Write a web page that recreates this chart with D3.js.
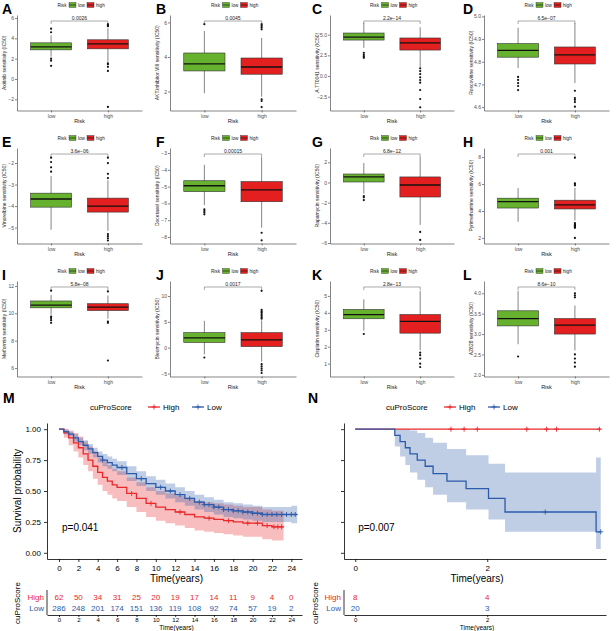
<!DOCTYPE html>
<html>
<head>
<meta charset="utf-8">
<script src="https://cdnjs.cloudflare.com/ajax/libs/d3/7.8.5/d3.min.js"></script>
<style>
  body { margin: 0; background: #fff; }
  svg { display: block; font-family: "Liberation Sans", Arial, sans-serif; }
</style>
</head>
<body>
<div id="chart"></div>
<script>
// ---- boxplot panels A-L ----
const boxLetters = ["A","B","C","D","E","F","G","H","I","J","K","L"];
const drugLabels = [
  "Axitinib sensitivity (IC50)", "AKT.inhibitor.VIII sensitivity (IC50)", "A.770041 sensitivity (IC50)", "Roscovitine sensitivity (IC50)",
  "Vinorelbine sensitivity (IC50)", "Docetaxel sensitivity (IC50)", "Rapamycin sensitivity (IC50)", "Pyrimethamine sensitivity (IC50)",
  "Metformin sensitivity (IC50)", "Bleomycin sensitivity (IC50)", "Cisplatin sensitivity (IC50)", "AZ628 sensitivity (IC50)"
];
const pValues = ["0.0026","0.0045","2.2e\u221214","6.5e\u221207","3.6e\u221206","0.00015","6.8e\u221212","0.001","5.8e\u221208","0.0017","2.8e\u221213","8.6e\u221210"];
const riskGroups = ["low", "high"];
const yTickValues = [
  [-2,0,2,4,6], [2,4,6], [-2.5,0,2.5,5], [4.6,4.7,4.8,4.9,5.0],
  [-5,-4,-3,-2], [-8,-7,-6,-5,-4,-3], [-6,-4,-2,0,2], [2,4,6,8],
  [6,8,10,12], [-5,0,5,10], [1,2,3,4,5], [2.0,2.5,3.0,3.5,4.0]
];
const yTickDigits = [0,0,1,1, 0,0,0,0, 0,0,0,1];
const yLimits = [
  [-3.1,6.3], [0.9,6.43], [-4.17,7.38], [4.585,5.006],
  [-5.74,-1.3], [-8.39,-2.7], [-6.05,3.42], [1.59,8.67],
  [5.38,12.36], [-5.58,12.9], [0.24,5.88], [1.96,4.3]
];
// [lower whisker, Q1, median, Q3, upper whisker]
const lowBoxes = [
  [2.2,2.87,3.17,3.56,4.3], [1.9,3.19,3.6,4.23,5.5], [3.4,4.35,4.7,5.2,6.4], [4.772,4.82,4.85,4.88,4.95],
  [-5.1,-4.05,-3.67,-3.4,-2.6], [-6.1,-5.3,-4.95,-4.65,-3.7], [-1.1,0.05,0.55,0.84,1.93], [3.2,4.22,4.7,4.95,5.7],
  [9.9,10.4,10.6,10.9,11.35], [-1.3,1.0,1.9,2.9,5.2], [2.95,3.65,3.9,4.2,4.8], [2.75,3.2,3.38,3.57,4.06]
];
const highBoxes = [
  [1.7,2.97,3.46,3.86,5.0], [1.7,3.0,3.42,3.94,5.1], [1.1,3.14,4.0,4.6,5.9], [4.706,4.79,4.83,4.865,4.97],
  [-5.15,-4.28,-4.0,-3.63,-2.8], [-7.45,-5.9,-5.2,-4.7,-3.25], [-4.2,-1.44,-0.25,0.55,2.53], [3.3,4.15,4.45,4.8,5.7],
  [9.6,10.2,10.45,10.7,11.3], [-2.7,0.2,1.5,2.9,5.3], [1.8,2.8,3.5,3.9,5.3], [2.6,3.0,3.22,3.38,3.7]
];
const lowOutliers = [
  [4.6,4.95,2.0,1.8,1.3], [5.9], [2.8,2.55,2.35,2.2], [4.733,4.72,4.706,4.693,4.675],
  [-2.4,-2.2,-1.95,-1.75], [-6.35,-6.45,-6.55,-6.65], [-1.34,-1.47,-1.74], [],
  [11.65,9.75,9.65,9.5,9.3], [-1.9], [2.75], [2.45]
];
const highOutliers = [
  [5.2,5.3,5.4,1.55,1.45,1.2,0.8,-2.75], [5.6,5.7,5.8,5.9,1.55,1.45,1.1], [0.93,0.6,0.24,-0.16,-0.48,-0.81,-1.69,-2.78,-3.79], [4.672,4.64,4.632,4.622,4.602],
  [-2.7,-2.5,-2.0,-1.75,-5.3,-5.4,-5.5,-5.6], [-7.75,-8.2], [-4.9,-5.7], [5.9,6.0,6.05,7.95,3.1,3.0,2.95,2.9,2.85,2.8,2.75,2.0],
  [11.6,9.4,9.3,6.55], [5.6,5.9,6.2,6.5,6.8,7.0,7.3,11.0,-3.2,-3.6,-4.0,-4.4,-4.9], [1.65,1.5,1.3,1.0,0.8], [4.0,3.95,3.9,2.5,2.4,2.3,2.2]
];

// ---- Kaplan-Meier panels M, N ----
const groupNames = ["High", "Low"];
const mTimeTicks = [0,2,4,6,8,10,12,14,16,18,20,22,24];
const mHighTime  = [0,0.5,1,1.5,2,2.5,3,3.5,4,4.5,5,5.5,6,7,8,9,10,11,12,13,14,15,16,17,18,19,20,21,22,23.2];
const mHighSurv  = [1,0.97,0.93,0.89,0.85,0.8,0.75,0.7,0.65,0.61,0.58,0.55,0.53,0.48,0.44,0.4,0.37,0.35,0.33,0.31,0.29,0.28,0.27,0.26,0.25,0.24,0.24,0.22,0.21,0.21];
const mHighLower = [1,0.93,0.87,0.82,0.77,0.71,0.66,0.6,0.55,0.5,0.47,0.44,0.42,0.37,0.33,0.29,0.26,0.24,0.22,0.2,0.18,0.17,0.16,0.15,0.14,0.13,0.13,0.11,0.1,0.1];
const mHighUpper = [1,1,0.99,0.97,0.94,0.9,0.86,0.82,0.77,0.74,0.71,0.68,0.66,0.61,0.57,0.53,0.5,0.48,0.46,0.44,0.42,0.41,0.4,0.39,0.38,0.37,0.37,0.35,0.34,0.34];
const mHighCensor = [7.5,9.5,12.5,15.5,17.5,19.5,20.5,21.5,22.2,22.6,23];
const mLowTime  = [0,0.5,1,1.5,2,2.5,3,3.5,4,4.5,5,5.5,6,7,8,9,10,11,12,13,14,15,16,17,18,19,20,21,22,23,24,24.6];
const mLowSurv  = [1,0.98,0.96,0.93,0.9,0.87,0.84,0.81,0.78,0.75,0.73,0.71,0.69,0.64,0.6,0.56,0.53,0.5,0.47,0.44,0.41,0.39,0.37,0.35,0.34,0.33,0.32,0.31,0.31,0.31,0.31,0.31];
const mLowLower = [1,0.96,0.94,0.9,0.87,0.83,0.8,0.77,0.73,0.7,0.68,0.66,0.63,0.58,0.54,0.5,0.47,0.44,0.41,0.38,0.35,0.33,0.31,0.29,0.28,0.27,0.26,0.25,0.25,0.25,0.24,0.24];
const mLowUpper = [1,1,0.98,0.96,0.93,0.91,0.88,0.85,0.82,0.8,0.78,0.76,0.74,0.7,0.66,0.62,0.59,0.56,0.53,0.5,0.47,0.45,0.43,0.41,0.4,0.39,0.38,0.37,0.37,0.37,0.38,0.38];
const mLowCensor = [4.5,6.5,8.5,10.5,11.5,12.5,13.5,14.5,15,15.5,16,16.5,17,17.5,18,18.5,19,19.5,20,20.5,21,21.5,22,22.5,23,23.5,24,24.4];
const mRiskHigh = [62,50,34,31,25,20,19,17,14,11,9,4,0];
const mRiskLow  = [286,248,201,174,151,136,119,108,92,74,57,19,2];

const nTimeTicks = [0,2];
const nHighTime  = [0,3.72];
const nHighSurv  = [1,1];
const nHighLower = [1,1];
const nHighUpper = [1,1];
const nHighCensor = [1.45,1.65,1.85,2.6,2.9,3.05,3.7];
const nLowTime  = [0,0.6,0.68,0.76,0.83,0.94,1.06,1.18,1.39,1.68,2.02,2.27,3.65,3.72];
const nLowSurv  = [1,0.95,0.9,0.85,0.8,0.75,0.7,0.64,0.58,0.52,0.44,0.33,0.17,0.17];
const nLowLower = [1,0.86,0.78,0.71,0.65,0.59,0.53,0.47,0.41,0.35,0.27,0.17,0.03,0.03];
const nLowUpper = [1,1,1,1,0.99,0.97,0.93,0.89,0.84,0.79,0.72,0.65,0.77,0.77];
const nLowCensor = [2.88,3.72];
const nRiskHigh = [8,4];
const nRiskLow  = [20,3];

const survTicks = [0,0.25,0.5,0.75,1];

const green = "#66B22E", red = "#E3201F";
const kmRed = "#E8282B", kmBlue = "#2C5BAA";

const svg = d3.select("#chart").append("svg")
  .attr("width", 616)
  .attr("height", 631);

const colRanges = [[17,142],[170,296],[330,454],[484,609]];
const letterX = [2,156,312,463];

function boxPanel(i) {
  const col = i % 4, row = Math.floor(i / 4);
  const [x0, x1] = colRanges[col];
  const top = 15 + row * 133, bottom = 110.5 + row * 133;
  const g = svg.append("g");

  const x = d3.scalePoint().domain(riskGroups).range([x0, x1]).padding(0.6);
  const y = d3.scaleLinear().domain(yLimits[i]).range([bottom, top]);
  const bw = x.step() * 0.72;

  // axes
  const fmt = d3.format("." + yTickDigits[i] + "f");
  g.append("g")
    .attr("transform", `translate(${x0},0)`)
    .call(d3.axisLeft(y).tickValues(yTickValues[i]).tickSize(2).tickSizeOuter(0)
      .tickFormat(d => fmt(d).replace("-", "\u2212")))
    .call(a => a.selectAll("text").style("font-size", "5px").attr("fill", "#4d4d4d").attr("x", -3))
    .call(a => a.selectAll("line,path").attr("stroke", "#333").attr("stroke-width", 0.6));

  g.append("g")
    .attr("transform", `translate(0,${bottom})`)
    .call(d3.axisBottom(x).tickSize(2).tickSizeOuter(0))
    .call(a => a.selectAll("text").style("font-size", "5px").attr("fill", "#4d4d4d").attr("y", 3.5))
    .call(a => a.selectAll("line,path").attr("stroke", "#333").attr("stroke-width", 0.6));

  g.append("text")
    .attr("x", (x0 + x1) / 2).attr("y", bottom + 12.5)
    .attr("text-anchor", "middle").style("font-size", "5.5px").attr("fill", "#222")
    .text("Risk");

  g.append("text")
    .attr("transform", `translate(${x0 - 11.5},${(top + bottom) / 2}) rotate(-90)`)
    .attr("text-anchor", "middle").style("font-size", "5px").attr("fill", "#222")
    .text(drugLabels[i]);

  // boxes
  const sets = [
    { grp: "low", s: lowBoxes[i], out: lowOutliers[i], fill: green },
    { grp: "high", s: highBoxes[i], out: highOutliers[i], fill: red }
  ];
  sets.forEach(d => {
    const cx = x(d.grp);
    g.append("line").attr("x1", cx).attr("x2", cx)
      .attr("y1", y(d.s[0])).attr("y2", y(d.s[4]))
      .attr("stroke", "#333").attr("stroke-width", 0.6);
    g.append("rect")
      .attr("x", cx - bw / 2).attr("width", bw)
      .attr("y", y(d.s[3])).attr("height", y(d.s[1]) - y(d.s[3]))
      .attr("fill", d.fill).attr("stroke", "#333").attr("stroke-width", 0.6);
    g.append("line").attr("x1", cx - bw / 2).attr("x2", cx + bw / 2)
      .attr("y1", y(d.s[2])).attr("y2", y(d.s[2]))
      .attr("stroke", "#111").attr("stroke-width", 1.3);
    g.selectAll(null).data(d.out).enter().append("circle")
      .attr("cx", cx).attr("cy", v => y(v)).attr("r", 1.1).attr("fill", "#111");
  });

  // significance bracket
  const by = top + 6;
  g.append("path")
    .attr("d", `M${x("low")},${by + 3}V${by}H${x("high")}V${by + 3}`)
    .attr("fill", "none").attr("stroke", "#555").attr("stroke-width", 0.5);
  g.append("text")
    .attr("x", (x("low") + x("high")) / 2).attr("y", by - 1.5)
    .attr("text-anchor", "middle").style("font-size", "5px").attr("fill", "#222")
    .text(pValues[i]);

  // legend
  const cx = (x0 + x1) / 2, ly = top - 10;
  const lg = g.append("g").style("font-size", "4.6px").attr("fill", "#222");
  lg.append("text").attr("x", cx - 22).attr("y", ly + 1.7).text("Risk");
  [[green, "low", -10.5], [red, "high", 7.5]].forEach(([c, t, dx]) => {
    lg.append("rect").attr("x", cx + dx).attr("y", ly - 2.5).attr("width", 7).attr("height", 5)
      .attr("fill", c).attr("stroke", "#333").attr("stroke-width", 0.4);
    lg.append("line").attr("x1", cx + dx).attr("x2", cx + dx + 7).attr("y1", ly).attr("y2", ly)
      .attr("stroke", "#111").attr("stroke-width", 0.6);
    lg.append("text").attr("x", cx + dx + 9).attr("y", ly + 1.7).text(t);
  });

  svg.append("text")
    .attr("x", letterX[col]).attr("y", top - 1)
    .style("font-size", "14px").style("font-weight", "bold").attr("fill", "#000")
    .text(boxLetters[i]);
}

boxLetters.forEach((_, i) => boxPanel(i));

// ---- KM panels ----
function stepValue(times, surv, t) {
  let v = surv[0];
  times.forEach((tt, k) => { if (tt <= t) v = surv[k]; });
  return v;
}

function kmPanel(opt) {
  const g = svg.append("g");
  const x = d3.scaleLinear().domain(opt.xDomain).range(opt.xRange);
  const y = d3.scaleLinear().domain([-0.05, 1.05]).range([559, 423]);

  opt.curves.forEach(c => {
    const pts = c.time.map((t, k) => ({ t, s: c.surv[k], lo: c.lower[k], up: c.upper[k] }));
    g.append("path").datum(pts)
      .attr("d", d3.area().curve(d3.curveStepAfter).x(d => x(d.t)).y0(d => y(d.lo)).y1(d => y(d.up)))
      .attr("fill", c.color).attr("fill-opacity", 0.3);
  });
  opt.curves.forEach(c => {
    const pts = c.time.map((t, k) => ({ t, s: c.surv[k] }));
    g.append("path").datum(pts)
      .attr("d", d3.line().curve(d3.curveStepAfter).x(d => x(d.t)).y(d => y(d.s)))
      .attr("fill", "none").attr("stroke", c.color).attr("stroke-width", 1.3);
    g.selectAll(null).data(c.censor).enter().append("path")
      .attr("d", t => {
        const px = x(t), py = y(stepValue(c.time, c.surv, t));
        return `M${px - 2.5},${py}H${px + 2.5}M${px},${py - 2.5}V${py + 2.5}`;
      })
      .attr("stroke", c.color).attr("stroke-width", 0.9);
  });

  // axes
  g.append("g")
    .attr("transform", `translate(${opt.xRange[0]},0)`)
    .call(d3.axisLeft(y).tickValues(survTicks).tickSize(3).tickSizeOuter(0).tickFormat(opt.showY ? d3.format(".2f") : ""))
    .call(a => a.selectAll("text").style("font-size", "8px").attr("fill", "#000"))
    .call(a => a.selectAll("line,path").attr("stroke", "#000").attr("stroke-width", 0.8));
  g.append("g")
    .attr("transform", "translate(0,559)")
    .call(d3.axisBottom(x).tickValues(opt.ticks).tickSize(3).tickSizeOuter(0).tickFormat(d3.format("d")))
    .call(a => a.selectAll("text").style("font-size", "8px").attr("fill", "#000"))
    .call(a => a.selectAll("line,path").attr("stroke", "#000").attr("stroke-width", 0.8));

  g.append("text").attr("x", (opt.xRange[0] + opt.xRange[1]) / 2 + 2).attr("y", 582)
    .attr("text-anchor", "middle").style("font-size", "10px").text("Time(years)");
  if (opt.showY) {
    g.append("text").attr("transform", "translate(21,491) rotate(-90)")
      .attr("text-anchor", "middle").style("font-size", "10px").text("Survival probability");
  }
  g.append("text").attr("x", x(0) + 3).attr("y", 531).style("font-size", "10px").text(opt.p);

  // legend
  const lg = g.append("g").style("font-size", "8px");
  lg.append("text").attr("x", opt.legendX).attr("y", 410).text("cuProScore");
  opt.curves.forEach((c, k) => {
    const lx = opt.legendX + 58 + k * 44;
    lg.append("line").attr("x1", lx).attr("x2", lx + 12).attr("y1", 407).attr("y2", 407)
      .attr("stroke", c.color).attr("stroke-width", 1.3);
    lg.append("path").attr("d", `M${lx + 3.5},407H${lx + 8.5}M${lx + 6},404.5V409.5`)
      .attr("stroke", c.color).attr("stroke-width", 0.9);
    lg.append("text").attr("x", lx + 15).attr("y", 410).text(c.name);
  });

  // risk table
  const rows = [[opt.curves[0], opt.riskHigh, 597], [opt.curves[1], opt.riskLow, 608]];
  rows.forEach(([c, vals, ry]) => {
    g.append("text").attr("x", opt.xRange[0] - 3).attr("y", ry + 3).attr("text-anchor", "end")
      .style("font-size", "8px").attr("fill", c.color).text(c.name);
    g.selectAll(null).data(vals).enter().append("text")
      .attr("x", (v, k) => x(opt.ticks[k])).attr("y", ry + 3)
      .attr("text-anchor", "middle").style("font-size", "8px").attr("fill", c.color).text(v => v);
  });
  g.append("line").attr("x1", opt.xRange[0]).attr("x2", opt.xRange[0]).attr("y1", 590).attr("y2", 615)
    .attr("stroke", "#000").attr("stroke-width", 0.8);
  g.append("g")
    .attr("transform", "translate(0,615)")
    .call(d3.axisBottom(x).tickValues(opt.ticks).tickSize(2).tickSizeOuter(0).tickFormat(d3.format("d")))
    .call(a => a.selectAll("text").style("font-size", "6px").attr("fill", "#000").attr("y", 2.5))
    .call(a => a.selectAll("line,path").attr("stroke", "#000").attr("stroke-width", 0.8));
  g.append("text").attr("x", (opt.xRange[0] + opt.xRange[1]) / 2 + 2).attr("y", 630)
    .attr("text-anchor", "middle").style("font-size", "6.5px").text("Time(years)");
  g.append("text").attr("transform", `translate(${opt.tableLabelX},603) rotate(-90)`)
    .attr("text-anchor", "middle").style("font-size", "8px").text("cuProScore");

  svg.append("text").attr("x", opt.letterX).attr("y", 403)
    .style("font-size", "14px").style("font-weight", "bold").text(opt.letter);
}

kmPanel({
  letter: "M", letterX: 3, xDomain: [-1.24, 25.1], xRange: [47, 302], ticks: mTimeTicks,
  showY: true, p: "p=0.041", legendX: 90, tableLabelX: 20,
  riskHigh: mRiskHigh, riskLow: mRiskLow,
  curves: [
    { name: groupNames[0], color: kmRed, time: mHighTime, surv: mHighSurv, lower: mHighLower, upper: mHighUpper, censor: mHighCensor },
    { name: groupNames[1], color: kmBlue, time: mLowTime, surv: mLowSurv, lower: mLowLower, upper: mLowUpper, censor: mLowCensor }
  ]
});

kmPanel({
  letter: "N", letterX: 308, xDomain: [-0.17, 3.8], xRange: [344, 606], ticks: nTimeTicks,
  showY: false, p: "p=0.007", legendX: 386, tableLabelX: 318,
  riskHigh: nRiskHigh, riskLow: nRiskLow,
  curves: [
    { name: groupNames[0], color: kmRed, time: nHighTime, surv: nHighSurv, lower: nHighLower, upper: nHighUpper, censor: nHighCensor },
    { name: groupNames[1], color: kmBlue, time: nLowTime, surv: nLowSurv, lower: nLowLower, upper: nLowUpper, censor: nLowCensor }
  ]
});
</script>
</body>
</html>
